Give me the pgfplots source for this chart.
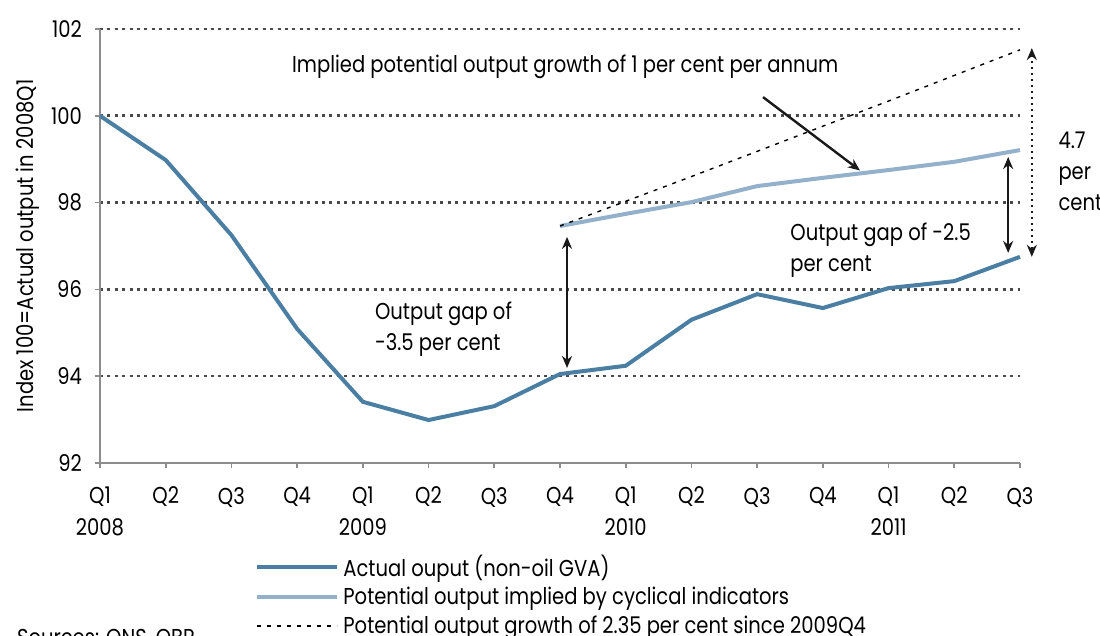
\documentclass[border=0pt]{standalone}
\usepackage{pgfplots}
\pgfplotsset{compat=1.18}
\usepackage{fontspec}
\setmainfont{Poppins}[FakeStretch=0.85]
\usetikzlibrary{arrows.meta}
\definecolor{actual}{HTML}{4A7FA3}
\definecolor{potential}{HTML}{93B1CB}
\definecolor{gridc}{HTML}{4A4A4A}
\definecolor{axisc}{HTML}{8C8C8C}
\newcommand{\cf}{\fontsize{11.5}{15.5}\selectfont}
\newcommand{\tf}{\fontsize{11.5}{16}\selectfont}
\pgfplotstableread{
x y
0 100.00
1 98.98
2 97.25
3 95.09
4 93.41
5 92.99
6 93.31
7 94.05
8 94.24
9 95.30
10 95.89
11 95.57
12 96.03
13 96.19
14 96.75
}\actualdata
\pgfplotstableread{
x y
7 97.46
8 97.74
9 98.01
10 98.38
11 98.57
12 98.75
13 98.94
14 99.21
}\potentialdata
\pgfplotstableread{
x y
7 97.46
8 98.03
9 98.60
10 99.18
11 99.76
12 100.34
13 100.93
14 101.52
}\trenddata
\begin{document}
\begin{tikzpicture}
\useasboundingbox (0,0) rectangle (550pt,318pt);
\begin{axis}[
  at={(50pt,86.5pt)}, anchor=south west,
  scale only axis, width=460pt, height=217pt,
  xmin=0, xmax=14, ymin=92, ymax=102,
  clip=false,
  axis x line*=bottom, axis y line*=left,
  axis line style={axisc, line width=0.8pt},
  tick style={axisc, line width=0.8pt},
  tick align=outside, major tick length=2.5pt,
  xtick={0,...,14},
  xticklabels={{Q1\\2008},Q2,Q3,Q4,{Q1\\2009},Q2,Q3,Q4,{Q1\\2010},Q2,Q3,Q4,{Q1\\2011},Q2,Q3},
  x tick label style={align=center, font=\tf, yshift=-6pt},
  ytick={94,96,...,102},
  extra y ticks={92},
  extra y tick style={grid=none},
  yticklabel style={font=\cf, xshift=-3pt},
  /pgf/number format/assume math mode=true,
  ymajorgrids,
  major grid style={gridc, line width=1.3pt, dash pattern=on 1.5pt off 2.2pt},
  ylabel={Index 100=Actual output in 2008Q1},
  every axis y label/.style={at={(ticklabel cs:0.5)}, rotate=90, anchor=south, font=\cf, yshift=-6pt},
  legend style={at={(0.1685,-0.201)}, anchor=north west, draw=none, fill=none,
    font=\cf, row sep=0pt, inner sep=0pt, legend cell align=left},
  legend image code/.code={\draw[#1] (0pt,0pt) -- (40pt,0pt);},
]
\addplot[actual, line width=2pt] table[x=x,y=y] {\actualdata};
\addlegendentry{Actual ouput (non-oil GVA)}
\addplot[potential, line width=2pt] table[x=x,y=y] {\potentialdata};
\addlegendentry{Potential output implied by cyclical indicators}
\addplot[black, line width=0.7pt, dash pattern=on 2pt off 3pt] table[x=x,y=y] {\trenddata};
\addlegendentry{Potential output growth of 2.35 per cent since 2009Q4}

\node[font=\cf] at (axis cs:7.08,101.12) {Implied potential output growth of 1 per cent per annum};
\draw[-{Stealth[length=6pt,width=5pt]}, line width=1.2pt, black!90] (axis cs:10.09,100.43) -- (axis cs:11.565,98.74);
\draw[{Stealth[length=6pt,width=5pt]}-{Stealth[length=6pt,width=5pt]}, line width=1.2pt, black!90] (axis cs:7.107,97.21) -- (axis cs:7.107,94.19);
\draw[{Stealth[length=6pt,width=5pt]}-{Stealth[length=6pt,width=5pt]}, line width=1.2pt, black!90] (axis cs:13.82,99.05) -- (axis cs:13.82,96.84);
\draw[{Stealth[length=6pt,width=5pt]}-{Stealth[length=6pt,width=5pt]}, line width=1pt, black!90, dotted] (axis cs:14.18,101.56) -- (axis cs:14.18,96.75);
\node[font=\cf, align=left, anchor=west, inner sep=0pt] at (axis cs:4.18,95.09) {Output gap of\\-3.5 per cent};
\node[font=\cf, align=left, anchor=west, inner sep=0pt] at (axis cs:10.5,96.9) {Output gap of -2.5\\per cent};
\node[font=\cf, align=left, anchor=west, inner sep=0pt] at (axis cs:14.58,98.73) {4.7\\per\\cent};
\end{axis}
\node[font=\cf, anchor=base west] at (5pt,-5pt) {Sources: ONS, OBR};
\end{tikzpicture}
\end{document}
